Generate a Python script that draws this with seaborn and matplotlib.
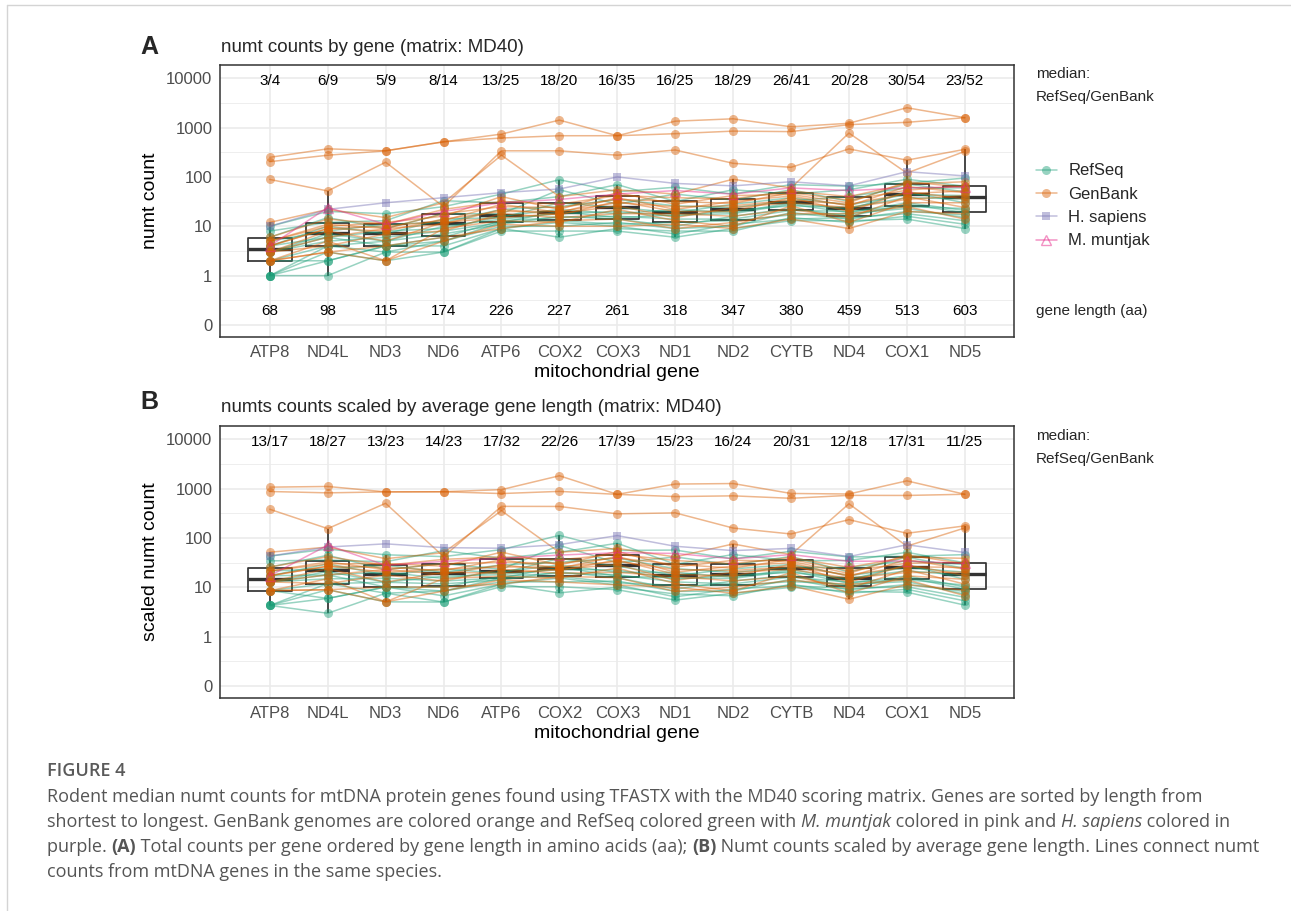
import numpy as np
import pandas as pd
import matplotlib
matplotlib.use("Agg")
import matplotlib.pyplot as plt
import seaborn as sns
from matplotlib.lines import Line2D
from matplotlib.ticker import FixedLocator, NullFormatter, NullLocator

# ---------------- data ----------------
genes = ["ATP8", "ND4L", "ND3", "ND6", "ATP6", "COX2", "COX3",
         "ND1", "ND2", "CYTB", "ND4", "COX1", "ND5"]
gene_lengths = [68, 98, 115, 174, 226, 227, 261, 318, 347, 380, 459, 513, 603]
median_counts = ["3/4", "6/9", "5/9", "8/14", "13/25", "18/20", "16/35",
                 "16/25", "18/29", "26/41", "20/28", "30/54", "23/52"]
median_scaled = ["13/17", "18/27", "13/23", "14/23", "17/32", "22/26", "17/39",
                 "15/23", "16/24", "20/31", "12/18", "17/31", "11/25"]

refseq = {
    "R1":  [1, 1, 3, 3, 8, 8, 8, 6, 9, 13, 13, 14, 9],
    "R2":  [1, 3, 2, 3, 9, 6, 9, 8, 8, 15, 12, 16, 11],
    "R3":  [1, 2, 4, 4, 9, 12, 10, 7, 11, 14, 15, 18, 13],
    "R4":  [1, 4, 3, 5, 10, 10, 12, 9, 10, 19, 14, 20, 17],
    "R5":  [2, 2, 4, 5, 12, 13, 11, 12, 13, 17, 18, 23, 15],
    "R6":  [2, 4, 5, 7, 11, 16, 14, 10, 16, 23, 16, 28, 19],
    "R7":  [3, 6, 4, 6, 13, 15, 16, 14, 14, 21, 20, 25, 23],
    "R8":  [3, 5, 6, 8, 12, 20, 15, 17, 18, 28, 19, 30, 21],
    "R9":  [3, 7, 5, 10, 14, 18, 20, 16, 21, 26, 24, 38, 36],
    "R10": [4, 6, 8, 9, 16, 22, 18, 22, 19, 30, 22, 50, 30],
    "R11": [4, 10, 7, 14, 15, 30, 24, 19, 28, 38, 27, 44, 42],
    "R12": [5, 8, 11, 12, 22, 25, 35, 26, 24, 33, 40, 60, 60],
    "R13": [6, 15, 9, 18, 18, 55, 28, 45, 34, 55, 32, 72, 50],
    "R14": [8, 12, 13, 33, 30, 40, 70, 32, 55, 45, 55, 90, 65],
    "R15": [10, 20, 18, 25, 45, 88, 50, 62, 45, 70, 65, 75, 95],
}
genbank = {
    "G1":  [250, 372, 339, 516, 740, 1420, 685, 1350, 1510, 1040, 1225, 2530, 1590],
    "G2":  [204, 276, 339, 516, 616, 685, 685, 753, 850, 830, 1150, 1280, 1590],
    "G3":  [89, 52, 199, 25, 339, 339, 276, 352, 189, 157, 370, 219, 363],
    "G4":  [12, 22, 15, 30, 276, 40, 55, 45, 90, 60, 776, 120, 330],
    "G5":  [2, 3, 2, 5, 11, 10, 10, 11, 9, 14, 9, 20, 18],
    "G6":  [2, 3, 4, 6, 9, 13, 14, 9, 12, 18, 18, 25, 14],
    "G7":  [2, 5, 2, 9, 13, 12, 22, 13, 10, 26, 12, 30, 30],
    "G8":  [3, 4, 7, 8, 18, 15, 18, 18, 16, 22, 15, 40, 24],
    "G9":  [3, 8, 5, 12, 15, 18, 26, 15, 24, 30, 24, 35, 42],
    "G10": [3, 6, 9, 11, 22, 17, 32, 20, 20, 38, 20, 50, 36],
    "G11": [4, 9, 8, 14, 20, 20, 30, 25, 26, 34, 28, 46, 52],
    "G12": [4, 9, 10, 13, 28, 19, 38, 22, 32, 41, 26, 64, 48],
    "G13": [5, 11, 9, 18, 25, 24, 35, 32, 29, 48, 34, 54, 66],
    "G14": [5, 10, 12, 16, 40, 22, 48, 28, 42, 44, 30, 80, 62],
    "G15": [6, 14, 11, 22, 32, 28, 42, 38, 36, 52, 40, 72, 80],
}
h_sapiens = [10, 22, 30, 38, 48, 57, 100, 74, 66, 80, 66, 128, 105]
m_muntjak = [4, 24, 11, 20, 30, 35, 45, 53, 45, 60, 53, 60, 63]

group_colors = {"RefSeq": "#1B9E77", "GenBank": "#D95F02",
                "H. sapiens": "#7570B3", "M. muntjak": "#E7298A"}

rows = []
for grp, d in [("RefSeq", refseq), ("GenBank", genbank),
               ("H. sapiens", {"H. sapiens": h_sapiens}),
               ("M. muntjak", {"M. muntjak": m_muntjak})]:
    for sp, vals in d.items():
        for i, (g, v) in enumerate(zip(genes, vals)):
            rows.append(dict(group=grp, species=sp, gene=g, pos=i, count=v))
df = pd.DataFrame(rows)
mean_len = np.mean(gene_lengths)
len_map = dict(zip(genes, gene_lengths))
df["scaled"] = df["count"] * mean_len / df["gene"].map(len_map)

# ---------------- style ----------------
sns.set_theme(style="white")
plt.rcParams["font.family"] = ["Liberation Sans", "DejaVu Sans"]

W, H = 1291, 911
fig = plt.figure(figsize=(W / 100, H / 100), dpi=100)
fig.patch.set_facecolor("white")


def fx(px):
    return px / W


def fy(py):
    return 1 - py / H


axA = fig.add_axes([fx(220), fy(337), fx(1014) - fx(220), (337 - 65) / H])
axB = fig.add_axes([fx(220), fy(698), fx(1014) - fx(220), (698 - 426) / H])

GRID = "#EBEBEB"
DARK = "#333333"


def panel(ax, ycol, ylabel, top_labels, bottom_labels=None):
    box_df = df[df["group"].isin(["RefSeq", "GenBank"])]
    sns.boxplot(data=box_df, x="gene", y=ycol, order=genes, log_scale=True,
                fill=False, color=DARK, linecolor=DARK, linewidth=1.25,
                width=0.75, showfliers=False, showcaps=False,
                medianprops=dict(linewidth=2.4, color=DARK),
                ax=ax, zorder=2)
    for grp in ["RefSeq", "GenBank", "H. sapiens", "M. muntjak"]:
        sub = df[df["group"] == grp]
        c = group_colors[grp]
        kw = dict(marker="o", markersize=6.5, markeredgewidth=0,
                  markeredgecolor=c)
        if grp == "H. sapiens":
            kw = dict(marker="s", markersize=6, markeredgewidth=0,
                      markeredgecolor=c)
        if grp == "M. muntjak":
            kw = dict(marker="^", markersize=7, markerfacecolor="none",
                      markeredgecolor=c, markeredgewidth=1.0)
        sns.lineplot(data=sub, x="pos", y=ycol, units="species",
                     estimator=None, sort=False, color=c, linewidth=1.1,
                     alpha=0.45, legend=False, ax=ax, zorder=3, **kw)

    ax.set_yscale("log")
    ax.set_ylim(0.057, 18600)
    ax.set_xlim(-0.86, 12.85)
    ax.yaxis.set_major_locator(FixedLocator([0.1, 1, 10, 100, 1000, 10000]))
    ax.set_yticklabels(["0", "1", "10", "100", "1000", "10000"])
    ax.yaxis.set_minor_locator(FixedLocator([10 ** (k + 0.5) for k in range(-2, 5)]))
    ax.yaxis.set_minor_formatter(NullFormatter())
    ax.xaxis.set_major_locator(FixedLocator(range(len(genes))))
    ax.set_xticklabels(genes)
    ax.xaxis.set_minor_locator(NullLocator())
    ax.grid(True, which="major", color=GRID, linewidth=1.2, zorder=0)
    ax.grid(True, which="minor", axis="y", color=GRID, linewidth=0.6, zorder=0)
    ax.set_axisbelow(True)
    for s in ax.spines.values():
        s.set_color(DARK)
        s.set_linewidth(1.1)
        s.set_visible(True)
    ax.tick_params(which="major", length=3.5, width=0.9, color=DARK,
                   labelcolor="#4D4D4D", labelsize=12, pad=2)
    ax.tick_params(which="minor", length=0)
    ax.set_xlabel("mitochondrial gene", fontsize=14, color="black", labelpad=3)
    ax.set_ylabel(ylabel, fontsize=14, color="black", labelpad=5)
    for i, t in enumerate(top_labels):
        ax.text(i, 9000, t, ha="center", va="center", fontsize=11, color="black")
    if bottom_labels is not None:
        for i, t in enumerate(bottom_labels):
            ax.text(i, 0.19, str(t), ha="center", va="center", fontsize=11,
                    color="black")


panel(axA, "count", "numt count", median_counts, gene_lengths)
panel(axB, "scaled", "scaled numt count", median_scaled)

# panel letters and titles
fig.text(fx(140), fy(47), "A", fontsize=18, fontweight="bold", va="center", ha="left")
fig.text(fx(221), fy(47), "numt counts by gene (matrix: MD40)", fontsize=13.5,
         va="center", ha="left")
fig.text(fx(140), fy(402), "B", fontsize=18, fontweight="bold", va="center", ha="left")
fig.text(fx(221), fy(408), "numts counts scaled by average gene length (matrix: MD40)",
         fontsize=13.5, va="center", ha="left")

# right side texts
for y0 in (74, 436):
    fig.text(fx(1036), fy(y0), "median:", fontsize=11, va="center", ha="left")
    fig.text(fx(1036), fy(y0 + 23), "RefSeq/GenBank", fontsize=11, va="center", ha="left")
fig.text(fx(1036), fy(311), "gene length (aa)", fontsize=11, va="center", ha="left")

# legend
handles = []
for grp in ["RefSeq", "GenBank", "H. sapiens", "M. muntjak"]:
    c = group_colors[grp]
    if grp == "M. muntjak":
        h = Line2D([], [], color=c, alpha=0.5, lw=1.1, marker="^", markersize=7,
                   markerfacecolor="none", markeredgecolor=c, markeredgewidth=1.0)
    elif grp == "H. sapiens":
        h = Line2D([], [], color=c, alpha=0.45, lw=1.1, marker="s", markersize=6,
                   markeredgewidth=0)
    else:
        h = Line2D([], [], color=c, alpha=0.45, lw=1.1, marker="o", markersize=6.5,
                   markeredgewidth=0)
    handles.append(h)
fig.legend(handles, ["RefSeq", "GenBank", "H. sapiens", "M. muntjak"],
           loc="center left", bbox_to_anchor=(fx(1036), fy(206)),
           frameon=False, fontsize=12, handlelength=1.25, handletextpad=0.7,
           labelspacing=0.5, borderpad=0, borderaxespad=0)

# caption
renderer = fig.canvas.get_renderer()
CAP = "#555555"
cap_lines = [
    [("Rodent median numt counts for mtDNA protein genes found using TFASTX with the MD40 scoring matrix. Genes are sorted by length from", "normal", "normal")],
    [("shortest to longest. GenBank genomes are colored orange and RefSeq colored green with ", "normal", "normal"),
     ("M. muntjak", "italic", "normal"),
     (" colored in pink and ", "normal", "normal"),
     ("H. sapiens", "italic", "normal"),
     (" colored in", "normal", "normal")],
    [("purple. ", "normal", "normal"), ("(A)", "normal", "bold"),
     (" Total counts per gene ordered by gene length in amino acids (aa); ", "normal", "normal"),
     ("(B)", "normal", "bold"),
     (" Numt counts scaled by average gene length. Lines connect numt", "normal", "normal")],
    [("counts from mtDNA genes in the same species.", "normal", "normal")],
]
probe = fig.text(0, 0, cap_lines[0][0][0], fontsize=10, family=["Open Sans", "DejaVu Sans"])
w10 = probe.get_window_extent(renderer).width
probe.remove()
cap_size = 10 * 1163 / w10

fig.text(fx(47), fy(771), "FIGURE 4", fontsize=cap_size, color="#5a5a5a",
         family=["Open Sans", "DejaVu Sans"], weight="semibold", va="center")
for li, runs in enumerate(cap_lines):
    x = 47
    y = 797 + li * 25
    for txt, st, wt in runs:
        t = fig.text(fx(x), fy(y), txt, fontsize=cap_size, color=CAP,
                     family=["Open Sans", "DejaVu Sans"], style=st, weight=wt,
                     va="center", ha="left")
        x += t.get_window_extent(renderer).width

# light page frame
fig.add_artist(Line2D([fx(7), fx(7)], [0, fy(5)], transform=fig.transFigure,
                      color="#d4d4d4", lw=1))
fig.add_artist(Line2D([fx(7), 1], [fy(5), fy(5)], transform=fig.transFigure,
                      color="#d4d4d4", lw=1))

fig.savefig("out.png", dpi=100, facecolor="white")
